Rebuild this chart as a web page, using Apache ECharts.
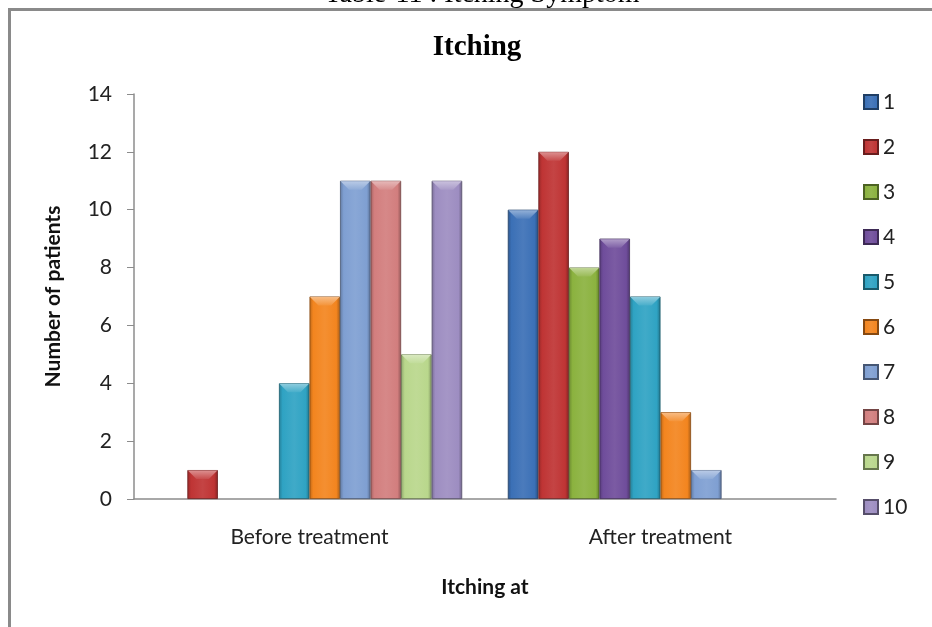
<!DOCTYPE html>
<html>
<head>
<meta charset="utf-8">
<title>Itching</title>
<script src="https://cdn.jsdelivr.net/npm/echarts@6/dist/echarts.min.js"></script>
<style>
  html, body { margin: 0; padding: 0; background: #fff; }
  #chart { width: 932px; height: 627px; }
</style>
</head>
<body>
<div id="chart"></div>
<script>
// Itching at each stage: patients per grade 1..10
const categories = ['Before treatment', 'After treatment'];
const gradeNames = ['1', '2', '3', '4', '5', '6', '7', '8', '9', '10'];
const beforeValues = [0, 1, 0, 0, 4, 7, 11, 11, 5, 11];
const afterValues = [10, 12, 8, 9, 7, 3, 1, 0, 0, 0];
const yTicks = { min: 0, max: 14, step: 2 };

// Office-style palette, one colour per grade
const palette = ['#3b70b6', '#bf3434', '#8bb23f', '#6f4d9b', '#2fa3c3',
                 '#f3851f', '#7f9fd2', '#d27e7e', '#b9d78c', '#9d8dc1'];

function shade(hex, f) {
  const n = parseInt(hex.slice(1), 16);
  let r = (n >> 16) & 255, g = (n >> 8) & 255, b = n & 255;
  const adj = c => f < 0 ? Math.round(c * (1 + f)) : Math.round(c + (255 - c) * f);
  return 'rgb(' + adj(r) + ',' + adj(g) + ',' + adj(b) + ')';
}

function barFill(hex) {
  return new echarts.graphic.LinearGradient(0, 0, 1, 0, [
    { offset: 0, color: shade(hex, -0.22) },
    { offset: 0.12, color: hex },
    { offset: 0.5, color: shade(hex, 0.08) },
    { offset: 0.88, color: hex },
    { offset: 1, color: shade(hex, -0.3) }
  ]);
}

const CAT_GAP = 0.13;
const uiFont = 'Lato, "Open Sans", sans-serif';

// An empty count leaves no bar at all
const asBar = v => (v === 0 ? '-' : v);

const barSeries = gradeNames.map((name, i) => ({
  name: name,
  type: 'bar',
  barGap: '0%',
  barCategoryGap: (CAT_GAP * 100) + '%',
  data: [asBar(beforeValues[i]), asBar(afterValues[i])],
  itemStyle: {
    color: barFill(palette[i]),
    borderColor: shade(palette[i], -0.45),
    borderWidth: 0.8
  },
  emphasis: { disabled: true }
}));

// Top bevel caps drawn over each bar, placed through the same category/value scales
const bevelData = [];
gradeNames.forEach((name, i) => {
  [beforeValues[i], afterValues[i]].forEach((v, c) => {
    if (v > 0) bevelData.push([c, v, i]);
  });
});

const bevelSeries = {
  type: 'custom',
  silent: true,
  z: 3,
  data: bevelData,
  encode: { x: 0, y: 1 },
  renderItem: function (params, api) {
    const c = api.value(0), v = api.value(1), s = api.value(2);
    const band = api.size([1, 0])[0];
    const w = band * (1 - CAT_GAP) / gradeNames.length;
    const x0 = api.coord([c, 0])[0] - band * (1 - CAT_GAP) / 2 + s * w;
    const y0 = api.coord([c, v])[1];
    const b = Math.min(9, w * 0.3);
    const col = palette[s];
    return {
      type: 'polygon',
      shape: { points: [[x0 + 0.5, y0 + 0.5], [x0 + w - 0.5, y0 + 0.5], [x0 + w - b, y0 + b], [x0 + b, y0 + b]] },
      style: {
        fill: new echarts.graphic.LinearGradient(0, 0, 0, 1, [
          { offset: 0, color: shade(col, 0.45) },
          { offset: 1, color: shade(col, 0.12) }
        ])
      }
    };
  }
};

const chart = echarts.init(document.getElementById('chart'), null, { renderer: 'canvas' });

chart.setOption({
  animation: false,
  backgroundColor: '#ffffff',
  title: {
    text: 'Itching',
    left: 472,
    top: 28,
    textAlign: 'center',
    textStyle: {
      fontFamily: '"Liberation Serif", "Times New Roman", serif',
      fontWeight: 'bold',
      fontSize: 29,
      color: '#000'
    }
  },
  graphic: [
    {
      type: 'text',
      x: 482,
      y: -5,
      style: {
        text: 'Table-11 : Itching Symptom',
        font: '28px "Liberation Serif", "Times New Roman", serif',
        fill: '#000',
        align: 'center',
        verticalAlign: 'middle'
      }
    },
    {
      type: 'rect',
      shape: { x: 9.5, y: 9.5, width: 960, height: 700 },
      style: { fill: 'none', stroke: '#8a8a8a', lineWidth: 3 },
      z: 10
    }
  ],
  legend: {
    orient: 'vertical',
    left: 858,
    top: 86,
    icon: 'rect',
    itemWidth: 14,
    itemHeight: 14,
    itemGap: 23,
    textStyle: {
      fontFamily: uiFont,
      fontSize: 21,
      lineHeight: 22,
      color: '#222'
    },
    data: gradeNames
  },
  grid: {
    left: 134,
    right: 96,
    top: 94,
    bottom: 128,
    containLabel: false
  },
  xAxis: {
    type: 'category',
    data: categories,
    name: 'Itching at',
    nameLocation: 'middle',
    nameGap: 78,
    nameTextStyle: {
      fontFamily: uiFont,
      fontWeight: 'bold',
      fontSize: 21,
      color: '#111'
    },
    axisLine: { lineStyle: { color: '#8c8c8c', width: 1.5 } },
    axisTick: { show: false },
    axisLabel: {
      margin: 28,
      fontFamily: uiFont,
      fontSize: 21,
      color: '#222'
    }
  },
  yAxis: {
    type: 'value',
    min: yTicks.min,
    max: yTicks.max,
    interval: yTicks.step,
    name: 'Number of patients',
    nameLocation: 'middle',
    nameGap: 70,
    nameRotate: 90,
    nameTextStyle: {
      fontFamily: uiFont,
      fontWeight: 'bold',
      fontSize: 21,
      color: '#111'
    },
    axisLine: { show: true, lineStyle: { color: '#8c8c8c', width: 1.5 } },
    axisTick: { show: true, length: 7, lineStyle: { color: '#8c8c8c' } },
    splitLine: { show: false },
    axisLabel: {
      margin: 22,
      fontFamily: uiFont,
      fontSize: 21,
      color: '#222'
    }
  },
  series: barSeries.concat([bevelSeries])
});
</script>
</body>
</html>
